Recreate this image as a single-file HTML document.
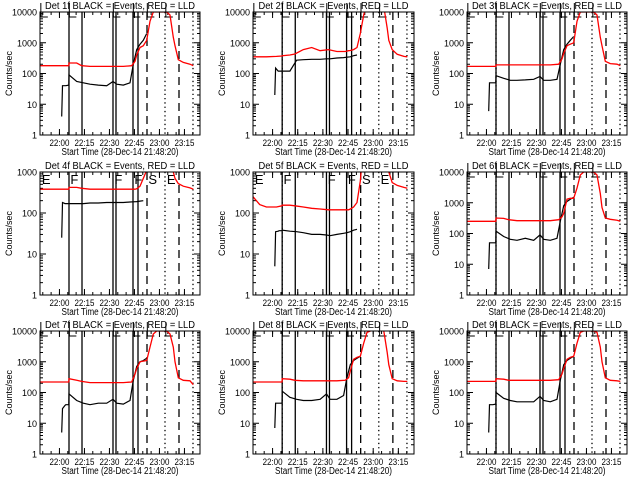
<!DOCTYPE html>
<html><head><meta charset="utf-8"><style>
html,body{margin:0;padding:0;background:#fff;}
svg{display:block;font-family:"Liberation Sans",sans-serif;}
</style></head><body>
<svg id="chart" width="640" height="480" viewBox="0 0 640 480" xmlns="http://www.w3.org/2000/svg">
<rect width="640" height="480" fill="#fff"/>
</svg>
<script>
// Time axis in minutes after 21:48:20
const tickLabels = ["22:00","22:15","22:30","22:45","23:00","23:15"];
const tickMinutes = [11.67,26.67,41.67,56.67,71.67,86.67];
const yTickLabels4 = ["1","10","100","1000","10000"];
const yTickLabels3 = ["1","10","100","1000"];
const solidEvents = [17.4,25.2,43.8,45.6,55.8,58.8];
const dashedEvents = [64.2,83.4];
const dottedEvents = [75,91.8];
const flagLabels = ["E","F","F","F","S","E"];
const flagMinutes = [0.5,17.6,44,56,64.4,75.5];

const redT = [0,4,8,14,17.3,17.4,22,25,30,35,40,45,50,55,57,58,60,62,64,66,68,70,76,78,80,81,83,86,90,92];
const red1 = [180,180,180,180,180,220,220,180,170,170,170,170,170,180,250,400,700,800,1200,5000,10000,10000,10000,8000,1500,800,280,230,200,180];
const red2 = [350,350,350,360,370,380,400,430,600,700,550,600,520,520,550,560,600,700,2000,8000,20000,20000,20000,15000,3000,1200,600,420,360,350];
const red3 = [170,170,170,170,170,190,190,190,190,190,190,190,190,200,300,450,800,900,1000,5000,10000,10000,10000,8000,1500,800,250,210,200,180];
const red4 = [380,380,380,380,380,420,420,400,380,380,380,380,380,380,380,390,450,700,1100,3000,5000,5000,5000,3000,1000,700,520,450,410,380];
const red5 = [250,160,140,140,150,155,155,150,140,130,125,120,120,120,120,125,140,180,600,5000,5000,5000,5000,5000,3000,1000,550,470,420,400];
const red6 = [250,250,250,250,250,320,310,280,260,260,260,260,260,280,350,450,1300,1400,1400,3000,8000,10000,10000,8000,2000,700,320,290,270,250];
const red7 = [220,220,220,220,220,280,250,230,210,210,210,210,210,220,400,600,1000,1050,1100,3000,8000,10000,10000,8000,3000,1000,300,250,240,180];
const red8 = [220,220,220,220,220,280,270,250,240,240,240,240,240,250,300,500,1200,1400,1500,4000,9000,10000,12000,10000,2000,800,280,240,230,230];
const red9 = [230,230,230,230,230,280,270,250,250,250,250,250,250,260,400,600,1200,1400,1500,4000,9000,10000,10000,9000,3000,1000,300,250,240,230];

const blackT = [13,13.5,15,15.5,17.3,17.4,22,26,30,35,40,43.8,46,50,54,56,58,60,62,64];
const black1 = [4,40,40,40,42,90,55,50,45,42,40,55,45,42,50,200,600,900,1200,2000];
const black2 = [20,150,120,120,120,120,120,270,280,290,290,300,300,320,330,340,350,380,400,null];
const black3 = [6,50,50,50,50,85,70,60,60,62,65,80,60,60,65,200,600,900,1200,1600];
const black4 = [25,180,170,170,170,170,170,170,175,175,180,180,180,180,185,188,190,195,200,null];
const black5 = [5,35,36,37,37,38,36,35,33,30,30,29,28,30,32,33,35,38,40,null];
const black6 = [7,50,50,50,50,120,80,65,60,70,60,90,65,60,70,250,800,1100,1300,1500];
const black7 = [5,30,38,40,40,90,55,45,40,45,45,60,45,42,55,250,700,1000,1100,1300];
const black8 = [7,45,45,45,45,110,70,60,55,55,60,90,60,60,80,300,800,1100,1300,1500];
const black9 = [5,40,40,40,42,100,65,55,50,50,50,75,55,50,60,250,800,1100,1300,1500];

const panelReds = [red1,red2,red3,red4,red5,red6,red7,red8,red9];
const panelBlacks = [black1,black2,black3,black4,black5,black6,black7,black8,black9];
const panelDecades = [4,4,4,3,3,4,4,4,4];

const NS="http://www.w3.org/2000/svg";
const svg=document.getElementById('chart');
function mk(tag,attrs,parent){const e=document.createElementNS(NS,tag);for(const k in attrs)e.setAttribute(k,attrs[k]);(parent||svg).appendChild(e);return e;}

const colX=[[40,200],[253,414],[467,627]];
const rowY=[[12,135],[172,295],[331,454]];
const SPAN=96;

for(let p=0;p<9;p++){
  const c=p%3,r=Math.floor(p/3);
  const [x0,x1]=colX[c],[y0,y1]=rowY[r];
  const dec=panelDecades[p];
  const xs=t=>x0+(t/SPAN)*(x1-x0);
  const ys=v=>y1-(Math.log10(v)/dec)*(y1-y0);
  const g=mk('g',{});
  
  
  const clipId='clip'+p;
  const cp=mk('clipPath',{id:clipId},g);mk('rect',{x:x0,y:y0,width:x1-x0,height:y1-y0},cp);

  const title=mk('text',{x:(x0+x1)/2,y:y0-3,'text-anchor':'middle','font-size':'10',textLength:'150',lengthAdjust:'spacingAndGlyphs'},g);
  title.textContent='Det '+(p+1)+'f BLACK = Events, RED = LLD';
  
  
  const xt=mk('text',{x:(x0+x1)/2,y:y1+20,'text-anchor':'middle','font-size':'10',textLength:'117',lengthAdjust:'spacingAndGlyphs'},g);
  xt.textContent='Start Time (28-Dec-14 21:48:20)';
  
  
  const yt=mk('text',{x:0,y:0,'text-anchor':'middle','font-size':'9',transform:`translate(${x0-28},${(y0+y1)/2}) rotate(-90)`},g);
  yt.textContent='Counts/sec';
  
  

  const labs=dec===4?yTickLabels4:yTickLabels3;
  for(let d=0;d<=dec;d++){
    const y=ys(Math.pow(10,d));
    mk('line',{x1:x0,x2:x0+6,y1:y,y2:y,stroke:'#000'},g);
    mk('line',{x1:x1,x2:x1-6,y1:y,y2:y,stroke:'#000'},g);
    const tl=mk('text',{x:x0-3,y:y+3.5,'text-anchor':'end','font-size':'9'},g);
    tl.textContent=labs[d];
    
    
    if(d<dec){for(let m=2;m<=9;m++){const yy=ys(m*Math.pow(10,d));
      mk('line',{x1:x0,x2:x0+3,y1:yy,y2:yy,stroke:'#000'},g);
      mk('line',{x1:x1,x2:x1-3,y1:yy,y2:yy,stroke:'#000'},g);}}
  }
  for(let i=0;i<tickMinutes.length;i++){
    const x=xs(tickMinutes[i]);
    mk('line',{x1:x,x2:x,y1:y1,y2:y1-6,stroke:'#000'},g);
    mk('line',{x1:x,x2:x,y1:y0,y2:y0+6,stroke:'#000'},g);
    const tl=mk('text',{x:x,y:y1+11,'text-anchor':'middle','font-size':'9',textLength:'20',lengthAdjust:'spacingAndGlyphs'},g);
    tl.textContent=tickLabels[i];
    
    
  }
  for(let m=1.67;m<SPAN;m+=5){const x=xs(m);
    mk('line',{x1:x,x2:x,y1:y1,y2:y1-3,stroke:'#000'},g);
    mk('line',{x1:x,x2:x,y1:y0,y2:y0+3,stroke:'#000'},g);}

  solidEvents.forEach(t=>{const x=xs(t);const l=mk('line',{x1:x,x2:x,y1:y0,y2:y1,stroke:'#000','stroke-width':1.3},g);
    });
  dashedEvents.forEach(t=>{const x=xs(t);const l=mk('line',{x1:x,x2:x,y1:y0,y2:y1,stroke:'#000','stroke-width':1.3,'stroke-dasharray':'8,5'},g);
    });
  const dots=c>0?[17.4].concat(dottedEvents):dottedEvents;
  dots.forEach(t=>{const x=xs(t);const l=mk('line',{x1:x,x2:x,y1:y0,y2:y1,stroke:'#000','stroke-width':1.3,'stroke-dasharray':'1.3,3'},g);
    });

  if(p===3||p===4){
    flagLabels.forEach((s,i)=>{const ft=mk('text',{x:xs(flagMinutes[i])+1,y:y0+12,'font-size':'13'},g);ft.textContent=s;
      });
  } else {
    flagMinutes.forEach(t=>{const x=xs(t);mk('path',{d:`M${x} ${y0-9}V${y0+5}H${x+7}`,fill:'none',stroke:'#000'},g);});
  }

  const buildPath=(T,V)=>{let d='',pen=false;for(let i=0;i<T.length;i++){const v=V[i];
    if(v==null){pen=false;continue;}d+=(pen?'L':'M')+xs(T[i]).toFixed(1)+' '+ys(v).toFixed(1);pen=true;}return d;};
  const bl=mk('path',{d:buildPath(blackT,panelBlacks[p]),fill:'none',stroke:'#000','stroke-width':1.2,'clip-path':`url(#${clipId})`},g);
  
  const rd=mk('path',{d:buildPath(redT,panelReds[p]),fill:'none',stroke:'#ff0000','stroke-width':1.3,'clip-path':`url(#${clipId})`},g);
  

  const box=mk('rect',{x:x0,y:y0,width:x1-x0,height:y1-y0,fill:'none',stroke:'#000'},g);
  
}
</script>
</body></html>
